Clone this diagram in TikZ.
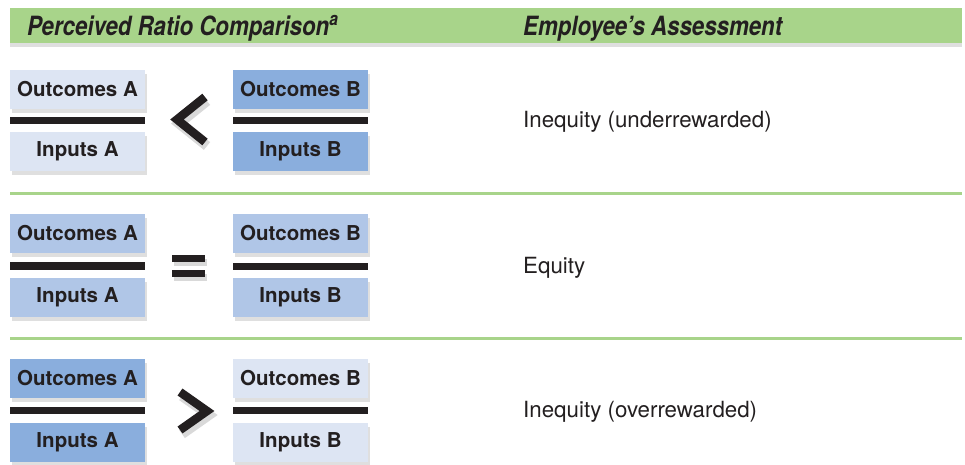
\documentclass[tikz,border=0pt]{standalone}
\usepackage{fontspec}
\setmainfont{TeX Gyre Heros}
\newfontfamily\headfont[FakeStretch=0.84]{TeX Gyre Heros}
\usetikzlibrary{shadows}
\definecolor{headgreen}{HTML}{A8D48A}
\definecolor{lightblue}{HTML}{DDE5F3}
\definecolor{midblue}{HTML}{B0C6E7}
\definecolor{darkblue}{HTML}{8AAEDD}
\definecolor{barblack}{HTML}{231F20}

\begin{document}
\begin{tikzpicture}[
  x=1pt, y=-1pt,
  termbox/.style={
    minimum width=135pt,
    minimum height=39pt,
    inner sep=0pt,
    font=\fontsize{20.5}{22}\selectfont\bfseries,
    text=barblack,
    drop shadow={shadow xshift=2pt, shadow yshift=-4pt, opacity=0.25}
  },
  fracbar/.style={fill=barblack},
  sign/.style={draw=barblack, line width=8.5pt},
  signshadow/.style={draw=black, opacity=0.15, line width=10pt},
  rowline/.style={draw=headgreen, line width=3pt},
  headtext/.style={
    anchor=base west,
    inner sep=0pt,
    font=\headfont\fontsize{26.5}{29}\selectfont\bfseries\itshape,
    text=barblack
  },
  verdict/.style={
    anchor=base west,
    inner sep=0pt,
    font=\fontsize{22.3}{24}\selectfont,
    text=barblack
  }
]
\useasboundingbox (0,0) rectangle (965,464);

% Header bar
\fill[headgreen, drop shadow={shadow xshift=0pt, shadow yshift=-4pt, opacity=0.25}]
  (10,8) rectangle (962,43);
\node[headtext] (headleft) at (27,35) {Perceived Ratio Comparison\textsuperscript{a}};
\node[headtext] (headright) at (523,35) {Employee’s Assessment};

% Row 1: underrewarded
\node[termbox, fill=lightblue] (outA1) at (77.5,89) {Outcomes A};
\node[termbox, fill=lightblue] (inA1) at (77.5,151) {Inputs A};
\node[termbox, fill=darkblue] (outB1) at (300.5,89) {Outcomes B};
\node[termbox, fill=darkblue] (inB1) at (300.5,151) {Inputs B};
\fill[fracbar] (10,117) rectangle (145,124);
\fill[fracbar] (233,117) rectangle (368,124);
\draw[signshadow] (207,101) -- (179,123.5) -- (207,146);
\draw[sign] (205,97) -- (177,119.5) -- (205,142);
\node[verdict] (verdict1) at (523,127) {Inequity (underrewarded)};

\draw[rowline] (10,193) -- (962,193);

% Row 2: equity
\node[termbox, fill=midblue] (outA2) at (77.5,233.5) {Outcomes A};
\node[termbox, fill=midblue] (inA2) at (77.5,297) {Inputs A};
\node[termbox, fill=midblue] (outB2) at (300.5,233.5) {Outcomes B};
\node[termbox, fill=midblue] (inB2) at (300.5,297) {Inputs B};
\fill[fracbar] (10,262) rectangle (145,270);
\fill[fracbar] (233,263) rectangle (368,270);
\fill[black, opacity=0.15] (174,259) rectangle (207,266);
\fill[black, opacity=0.15] (174,274) rectangle (207,281);
\fill[fracbar] (172,255) rectangle (205,262);
\fill[fracbar] (172,270) rectangle (205,277);
\node[verdict] (verdict2) at (523,273) {Equity};

\draw[rowline] (10,338) -- (962,338);

% Row 3: overrewarded
\node[termbox, fill=darkblue] (outA3) at (77.5,378.5) {Outcomes A};
\node[termbox, fill=darkblue] (inA3) at (77.5,442) {Inputs A};
\node[termbox, fill=lightblue] (outB3) at (300.5,378.5) {Outcomes B};
\node[termbox, fill=lightblue] (inB3) at (300.5,442) {Inputs B};
\fill[fracbar] (10,407) rectangle (145,414);
\fill[fracbar] (233,407) rectangle (368,414);
\draw[signshadow] (182,396) -- (209,415) -- (182,434);
\draw[sign] (180,392) -- (207,411) -- (180,430);
\node[verdict] (verdict3) at (523,417) {Inequity (overrewarded)};

\end{tikzpicture}
\end{document}
